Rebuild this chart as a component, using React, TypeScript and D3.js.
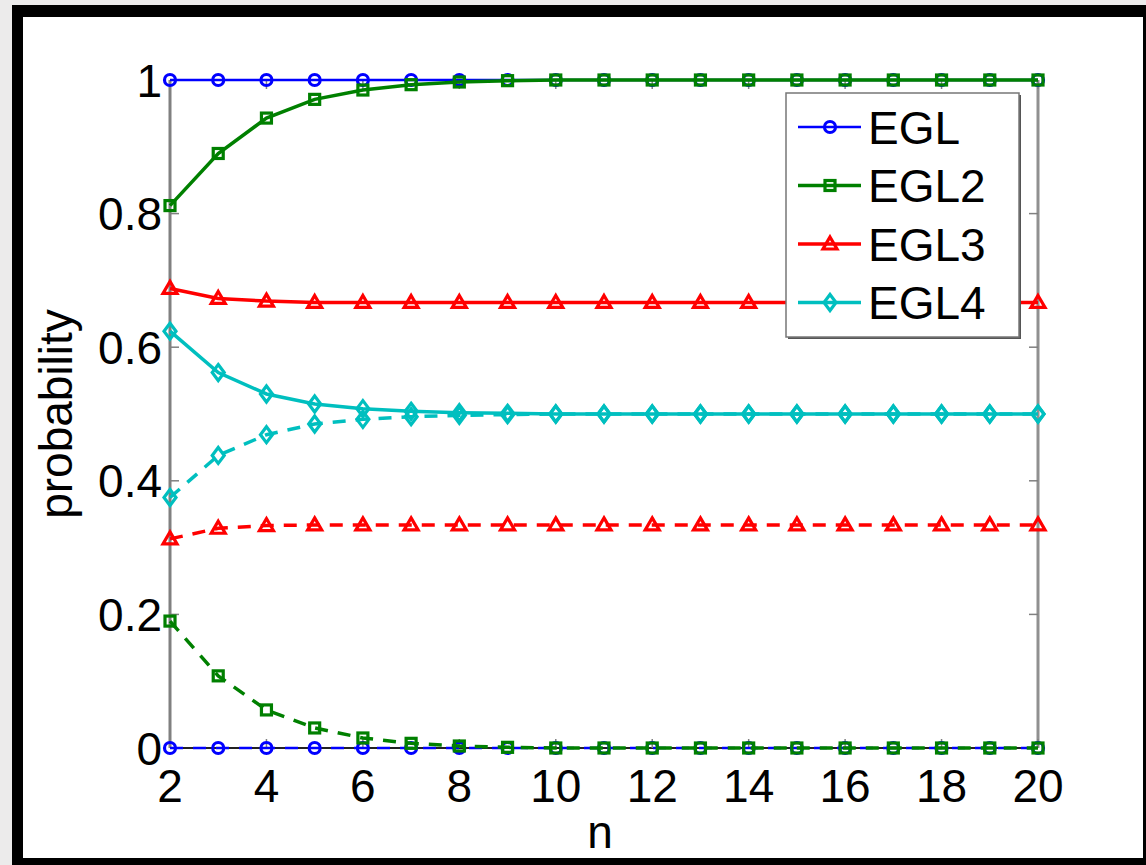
import { useEffect, useRef } from 'react'
import * as d3 from 'd3'

const N_VALUES = [2, 3, 4, 5, 6, 7, 8, 9, 10, 11, 12, 13, 14, 15, 16, 17, 18, 19, 20]
const X_TICKS = [2, 4, 6, 8, 10, 12, 14, 16, 18, 20]
const Y_TICKS = [0, 0.2, 0.4, 0.6, 0.8, 1]
const Y_TICK_LABELS = ['0', '0.2', '0.4', '0.6', '0.8', '1']

const EGL_A = [1, 1, 1, 1, 1, 1, 1, 1, 1, 1, 1, 1, 1, 1, 1, 1, 1, 1, 1]
const EGL_B = [0, 0, 0, 0, 0, 0, 0, 0, 0, 0, 0, 0, 0, 0, 0, 0, 0, 0, 0]
const EGL2_A = [0.812, 0.89, 0.943, 0.971, 0.985, 0.993, 0.997, 0.999, 1, 1, 1, 1, 1, 1, 1, 1, 1, 1, 1]
const EGL2_B = [0.19, 0.108, 0.057, 0.03, 0.015, 0.007, 0.003, 0.001, 0, 0, 0, 0, 0, 0, 0, 0, 0, 0, 0]
const EGL3_A = [0.688, 0.673, 0.669, 0.667, 0.667, 0.667, 0.667, 0.667, 0.667, 0.667, 0.667, 0.667, 0.667, 0.667, 0.667, 0.667, 0.667, 0.667, 0.667]
const EGL3_B = [0.313, 0.329, 0.333, 0.334, 0.334, 0.334, 0.334, 0.334, 0.334, 0.334, 0.334, 0.334, 0.334, 0.334, 0.334, 0.334, 0.334, 0.334, 0.334]
const EGL4_A = [0.624, 0.562, 0.53, 0.515, 0.508, 0.504, 0.502, 0.501, 0.5, 0.5, 0.5, 0.5, 0.5, 0.5, 0.5, 0.5, 0.5, 0.5, 0.5]
const EGL4_B = [0.375, 0.438, 0.469, 0.485, 0.492, 0.496, 0.498, 0.499, 0.5, 0.5, 0.5, 0.5, 0.5, 0.5, 0.5, 0.5, 0.5, 0.5, 0.5]

const SERIES = [
  { name: 'EGL', color: '#0000ff', marker: 'circle', lw: 2.5, solid: EGL_A, dashed: EGL_B },
  { name: 'EGL2', color: '#008000', marker: 'square', lw: 3.5, solid: EGL2_A, dashed: EGL2_B },
  { name: 'EGL3', color: '#ff0000', marker: 'triangle', lw: 3.5, solid: EGL3_A, dashed: EGL3_B },
  { name: 'EGL4', color: '#00bfbf', marker: 'diamond', lw: 3.5, solid: EGL4_A, dashed: EGL4_B },
]

const FONT = '"Liberation Sans", Arial, Helvetica, sans-serif'

function drawMarker(g: any, kind: string, cx: number, cy: number, color: string) {
  if (kind === 'circle') {
    g.append('circle').attr('cx', cx).attr('cy', cy).attr('r', 5.5)
      .attr('fill', 'none').attr('stroke', color).attr('stroke-width', 3.2)
  } else if (kind === 'square') {
    g.append('rect').attr('x', cx - 5).attr('y', cy - 5).attr('width', 10).attr('height', 10)
      .attr('fill', 'none').attr('stroke', color).attr('stroke-width', 3.2)
  } else if (kind === 'triangle') {
    g.append('path').attr('d', `M${cx},${cy - 7}L${cx + 7},${cy + 5}L${cx - 7},${cy + 5}Z`)
      .attr('fill', 'none').attr('stroke', color).attr('stroke-width', 3.2)
  } else {
    g.append('path').attr('d', `M${cx},${cy - 8}L${cx + 6},${cy}L${cx},${cy + 8}L${cx - 6},${cy}Z`)
      .attr('fill', 'none').attr('stroke', color).attr('stroke-width', 3.2)
  }
}

export default function App() {
  const svgRef = useRef<SVGSVGElement>(null)

  useEffect(() => {
    if (!svgRef.current) return
    const W = 1146, H = 865
    const svg = d3.select(svgRef.current)
    svg.selectAll('*').remove()
    svg.attr('width', W).attr('height', H)

    // page + frame
    svg.append('rect').attr('width', W).attr('height', H).attr('fill', '#ecebeb')
    svg.append('rect').attr('x', 12).attr('y', 5).attr('width', W - 12).attr('height', H - 5).attr('fill', '#000')
    svg.append('rect').attr('x', 23).attr('y', 17).attr('width', 1120).attr('height', 841).attr('fill', '#fff')

    const left = 170, right = 1038, top = 80, bottom = 748
    const x = d3.scaleLinear().domain([2, 20]).range([left, right])
    const y = d3.scaleLinear().domain([0, 1]).range([bottom, top])

    const g = svg.append('g')

    // axes box
    g.append('line').attr('x1', left).attr('x2', left).attr('y1', top).attr('y2', bottom).attr('stroke', '#808080').attr('stroke-width', 3)
    g.append('line').attr('x1', right).attr('x2', right).attr('y1', top).attr('y2', bottom).attr('stroke', '#909090').attr('stroke-width', 3)
    g.append('line').attr('x1', left).attr('x2', right).attr('y1', top).attr('y2', top).attr('stroke', '#808080').attr('stroke-width', 2)
    g.append('line').attr('x1', left).attr('x2', right).attr('y1', bottom).attr('y2', bottom).attr('stroke', '#222').attr('stroke-width', 2)

    // ticks
    Y_TICKS.forEach(t => {
      g.append('line').attr('x1', left).attr('x2', left + 9).attr('y1', y(t)).attr('y2', y(t)).attr('stroke', '#808080').attr('stroke-width', 1.5)
      g.append('line').attr('x1', right).attr('x2', right - 9).attr('y1', y(t)).attr('y2', y(t)).attr('stroke', '#808080').attr('stroke-width', 1.5)
    })
    X_TICKS.forEach(t => {
      g.append('line').attr('x1', x(t)).attr('x2', x(t)).attr('y1', bottom).attr('y2', bottom - 9).attr('stroke', '#808080').attr('stroke-width', 1.5)
      g.append('line').attr('x1', x(t)).attr('x2', x(t)).attr('y1', top).attr('y2', top + 9).attr('stroke', '#808080').attr('stroke-width', 1.5)
    })

    // tick labels
    Y_TICKS.forEach((t, i) => {
      g.append('text').attr('x', 162).attr('y', y(t) + 16.5)
        .attr('text-anchor', 'end').attr('font-family', FONT).attr('font-size', 46).attr('fill', '#000')
        .text(Y_TICK_LABELS[i])
    })
    X_TICKS.forEach(t => {
      g.append('text').attr('x', x(t)).attr('y', 802)
        .attr('text-anchor', 'middle').attr('font-family', FONT).attr('font-size', 46).attr('fill', '#000')
        .text(String(t))
    })

    // axis titles
    g.append('text').attr('x', 600).attr('y', 848)
      .attr('text-anchor', 'middle').attr('font-family', FONT).attr('font-size', 46).attr('fill', '#000')
      .text('n')
    g.append('text').attr('transform', `translate(72,${(top + bottom) / 2}) rotate(-90)`)
      .attr('text-anchor', 'middle').attr('font-family', FONT).attr('font-size', 46).attr('fill', '#000')
      .text('probability')

    // series
    const line = d3.line<number>().x((_, i) => x(N_VALUES[i])).y(d => y(d))
    SERIES.forEach(s => {
      ;[{ vals: s.solid, dash: null }, { vals: s.dashed, dash: '13,10' }].forEach(v => {
        g.append('path').attr('d', line(v.vals))
          .attr('fill', 'none').attr('stroke', s.color).attr('stroke-width', s.lw)
          .attr('stroke-dasharray', v.dash)
        v.vals.forEach((d, i) => drawMarker(g, s.marker, x(N_VALUES[i]), y(d), s.color))
      })
    })

    // legend
    const lx = 786, ly = 93, lw = 233, lh = 244
    g.append('rect').attr('x', lx + 2).attr('y', ly + 2).attr('width', lw).attr('height', lh).attr('fill', '#555')
    g.append('rect').attr('x', lx).attr('y', ly).attr('width', lw).attr('height', lh)
      .attr('fill', '#fff').attr('stroke', '#777').attr('stroke-width', 1.5)
    SERIES.forEach((s, i) => {
      const cy = 127 + i * 58.5
      g.append('line').attr('x1', 798).attr('x2', 861).attr('y1', cy).attr('y2', cy)
        .attr('stroke', s.color).attr('stroke-width', s.lw)
      drawMarker(g, s.marker, 830, cy, s.color)
      g.append('text').attr('x', 868).attr('y', cy + 16.5)
        .attr('font-family', FONT).attr('font-size', 46).attr('fill', '#000')
        .text(s.name)
    })
  }, [])

  return (
    <div style={{ position: 'fixed', left: 0, top: 0 }}>
      <svg ref={svgRef} style={{ display: 'block' }} />
    </div>
  )
}
